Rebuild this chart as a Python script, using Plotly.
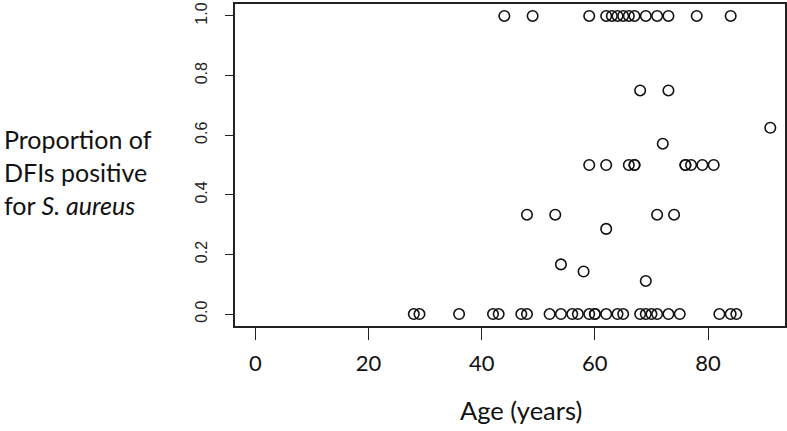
import plotly.graph_objects as go

# Age (years) of each patient and proportion of DFIs positive for S. aureus
age = [44, 49, 59, 62, 63, 64, 65, 66, 67, 69, 71, 73, 78, 84,
       68, 73,
       91,
       72,
       59, 62, 66, 67, 67, 76, 76, 77, 79, 81,
       48, 53, 71, 74,
       62,
       54,
       58,
       69,
       28, 29, 36, 42, 43, 47, 48, 52, 54, 56, 57, 59, 60, 60, 62, 64, 65,
       68, 69, 70, 71, 73, 75, 82, 84, 85]
proportion = [1.0] * 14 + [0.75] * 2 + [0.625] + [4 / 7] + [0.5] * 10 + \
    [1 / 3] * 4 + [2 / 7] + [1 / 6] + [1 / 7] + [1 / 9] + [0.0] * 26

x_ticks = [0, 20, 40, 60, 80]
y_ticks = [0.0, 0.2, 0.4, 0.6, 0.8, 1.0]
y_tick_labels = ["0.0", "0.2", "0.4", "0.6", "0.8", "1.0"]
x_title = "Age (years)"
y_title_lines = ["Proportion of", "DFIs positive", "for <i>S. aureus</i>"]

FONT = "Lato"
L, R, T, B = 235, 2, 4, 105
W, H = 787, 431
pw, ph = W - L - R, H - T - B

fig = go.Figure()
fig.add_trace(go.Scatter(
    x=age, y=proportion, mode="markers",
    marker=dict(symbol="circle-open", size=10.5, color="#111111",
                line=dict(width=1.6, color="#111111")),
    showlegend=False, hoverinfo="skip"))

axis_common = dict(showgrid=False, zeroline=False, showline=True, mirror=True,
                   linecolor="#222222", linewidth=1.5, ticks="outside",
                   tickcolor="#222222", tickwidth=1.3, automargin=False,
                   ticklabeloverflow="allow")

fig.update_xaxes(range=[-3.6, 93.6], tickvals=x_ticks, ticklen=12,
                 ticklabelstandoff=5,
                 tickfont=dict(family=FONT, size=22, color="#111111"),
                 **axis_common)
fig.update_yaxes(range=[-0.04, 1.04], tickvals=y_ticks, ticktext=y_tick_labels,
                 tickangle=-90, ticklen=8, ticklabelstandoff=12,
                 tickfont=dict(family="Liberation Sans", size=16, color="#222222"),
                 **axis_common)

annotations = []
for i, line in enumerate(y_title_lines):
    ypix = 139 + 33 * i
    annotations.append(dict(
        text=line, xref="paper", yref="paper",
        x=(2 - L) / pw, y=(H - B - ypix) / ph,
        xanchor="left", yanchor="middle", showarrow=False,
        font=dict(family=FONT, size=25, color="#111111")))
annotations.append(dict(
    text=x_title, xref="paper", yref="paper",
    x=(521 - L) / pw, y=(H - B - 410) / ph,
    xanchor="center", yanchor="middle", showarrow=False,
    font=dict(family=FONT, size=25.5, color="#111111")))

fig.update_layout(width=W, height=H, margin=dict(l=L, r=R, t=T, b=B),
                  plot_bgcolor="white", paper_bgcolor="white",
                  annotations=annotations)

fig.write_html("out.html", config={"displayModeBar": False},
               post_script="document.body.style.margin='0px';")
